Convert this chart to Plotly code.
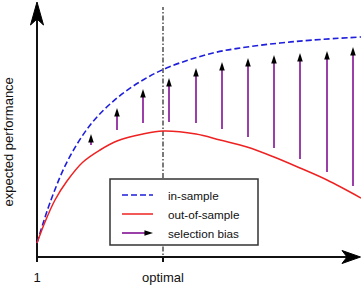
import plotly.graph_objects as go

# Data units: 1 unit = 1 screen pixel, origin at the corner of the two axes
blue_x = [0, 14, 31, 54, 80, 106, 132, 176, 210, 243, 276, 324]
blue_y = [14, 57, 97, 133, 159, 177, 190, 204, 210, 214, 217, 220]
red_x = [0, 8, 18, 30, 46, 63, 80, 106, 126, 159, 183, 210, 237, 263, 290, 324]
red_y = [14, 35, 57, 76, 95, 107, 116, 123, 126, 123, 117, 110, 100, 89, 77, 59]
bias_x = [54, 80, 106, 132, 159, 185, 211, 237, 263, 290, 316]
bias_base = [112, 127, 134, 135, 134, 128, 120, 109, 98, 85, 71]
bias_tip = [123, 149, 168, 179, 189, 195, 199, 202, 204, 206, 210]
optimal_x = 126
tick_vals = [0, 126]
tick_text = ["1", "optimal"]
legend_names = ["in-sample", "out-of-sample", "selection bias"]
y_title = "expected performance"

BLUE = "rgb(30,30,220)"
RED = "rgb(238,34,34)"
PURPLE = "rgb(155,63,169)"
INK = "#111111"
FONT = "Arial, Liberation Sans, sans-serif"

fig = go.Figure()

# curves
fig.add_trace(go.Scatter(x=blue_x, y=blue_y, mode="lines", line_shape="spline",
                         line=dict(color=BLUE, width=1.6, dash="6px,3px"),
                         hoverinfo="skip", showlegend=False, cliponaxis=False))
fig.add_trace(go.Scatter(x=red_x, y=red_y, mode="lines", line_shape="spline",
                         line=dict(color=RED, width=1.5),
                         hoverinfo="skip", showlegend=False, cliponaxis=False))

# selection-bias arrows: purple shafts + black heads
sx, sy = [], []
for x, b, t in zip(bias_x, bias_base, bias_tip):
    sx += [x, x, None]
    sy += [b, t - 5, None]
fig.add_trace(go.Scatter(x=sx, y=sy, mode="lines",
                         line=dict(color=PURPLE, width=2),
                         hoverinfo="skip", showlegend=False, cliponaxis=False))
fig.add_trace(go.Scatter(x=bias_x, y=bias_tip, mode="markers",
                         marker=dict(symbol="arrow", size=9, color="black", angle=0,
                                     line=dict(width=0)),
                         hoverinfo="skip", showlegend=False, cliponaxis=False))

shapes = []
# dash-dot "optimal" line
shapes.append(dict(type="line", xref="x", yref="y", x0=optimal_x, x1=optimal_x, y0=-5, y1=250,
                   line=dict(color="#222222", width=1.2, dash="5px,2px,1.5px,2px"), layer="below"))
# axes
shapes.append(dict(type="line", xref="x", yref="y", x0=0, x1=0, y0=-1, y1=240,
                   line=dict(color=INK, width=2), layer="below"))
shapes.append(dict(type="line", xref="x", yref="y", x0=-1, x1=310, y0=0, y1=0,
                   line=dict(color=INK, width=2), layer="below"))
shapes.append(dict(type="path", xref="x", yref="y",
                   path="M 0,255 L -6.5,232 L 0,238 L 6.5,232 Z",
                   fillcolor="black", line=dict(color="black", width=1), layer="below"))
shapes.append(dict(type="path", xref="x", yref="y",
                   path="M 323.5,0 L 305,6.5 L 310,0 L 305,-6.5 Z",
                   fillcolor="black", line=dict(color="black", width=1), layer="below"))
# legend box
shapes.append(dict(type="rect", xref="x", yref="y", x0=73, x1=221, y0=12, y1=78,
                   fillcolor="white", line=dict(color="#333333", width=1.5), layer="below"))

# legend samples
leg_y = [62, 43, 24]
fig.add_trace(go.Scatter(x=[85, 116], y=[leg_y[0]] * 2, mode="lines",
                         line=dict(color=BLUE, width=1.6, dash="6px,3px"),
                         hoverinfo="skip", showlegend=False))
fig.add_trace(go.Scatter(x=[85, 116], y=[leg_y[1]] * 2, mode="lines",
                         line=dict(color=RED, width=1.5),
                         hoverinfo="skip", showlegend=False))
fig.add_trace(go.Scatter(x=[85, 111], y=[leg_y[2]] * 2, mode="lines",
                         line=dict(color=PURPLE, width=2),
                         hoverinfo="skip", showlegend=False))
fig.add_trace(go.Scatter(x=[116], y=[leg_y[2]], mode="markers",
                         marker=dict(symbol="arrow", size=9, color="black", angle=90,
                                     line=dict(width=0)),
                         hoverinfo="skip", showlegend=False))

annotations = []
for name, yy in zip(legend_names, leg_y):
    annotations.append(dict(x=129, y=yy, xref="x", yref="y", text=name, showarrow=False,
                            xanchor="left", yanchor="middle",
                            font=dict(family=FONT, size=11.7, color=INK)))
annotations.append(dict(x=-29.5, y=115, xref="x", yref="y", text=y_title, showarrow=False,
                        textangle=-90, xanchor="center", yanchor="middle",
                        font=dict(family=FONT, size=13, color=INK)))

fig.update_layout(
    width=361, height=288,
    margin=dict(l=0, r=0, t=0, b=0),
    paper_bgcolor="white", plot_bgcolor="white",
    shapes=shapes, annotations=annotations,
    xaxis=dict(range=[-37, 324], showgrid=False, zeroline=False, showline=False,
               tickvals=tick_vals, ticktext=tick_text, ticks="outside", ticklen=4,
               tickwidth=1.5, tickcolor=INK, anchor="free", position=31 / 288,
               ticklabelstandoff=4,
               tickfont=dict(family=FONT, size=13, color=INK), fixedrange=True),
    yaxis=dict(range=[-31, 257], visible=False, fixedrange=True),
    showlegend=False,
)

fig.write_html("out.html")
